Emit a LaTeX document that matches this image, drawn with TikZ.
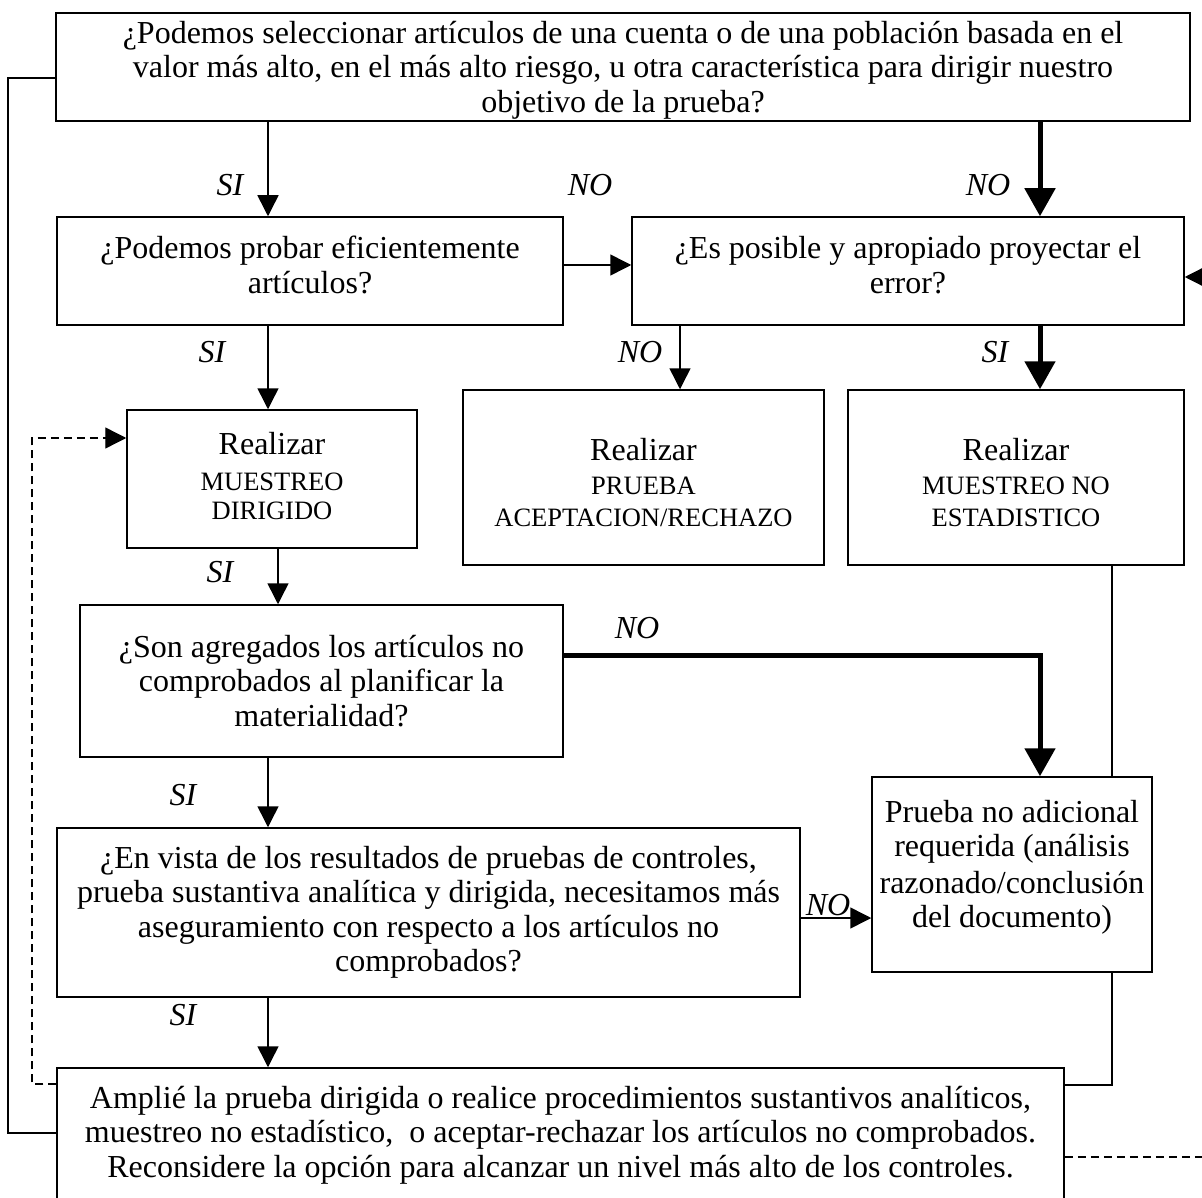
\documentclass[tikz,border=0pt]{standalone}
\usepackage{fontspec}
\setmainfont{Liberation Serif}
\usetikzlibrary{arrows.meta,calc}
\newcommand\capsz{\fontsize{26.5}{30}\selectfont}
\begin{document}
\begin{tikzpicture}[x=1pt,y=-1pt,
  box/.style={draw,line width=1.5pt,inner sep=0pt},
  txt/.style={align=center,inner sep=0pt,font=\fontsize{32}{34.5}\selectfont},
  arr/.style={line width=1.5pt,-{Triangle[length=21pt,width=21pt]}},
  thk/.style={line width=5pt,-{Triangle[length=28pt,width=30pt]}},
  ln/.style={line width=1.5pt},
  dsh/.style={line width=1.4pt,dash pattern=on 8pt off 5pt},
  lbl/.style={font=\fontsize{32}{34}\selectfont\itshape,inner sep=0pt}]
\useasboundingbox (0,0) rectangle (1202,1198);

% boxes
\node[box,minimum width=1134pt,minimum height=108pt] (top) at (623,67) {};
\node[box,minimum width=506pt,minimum height=108pt] (b2) at (310,271) {};
\node[box,minimum width=552pt,minimum height=108pt] (b3) at (908,271) {};
\node[box,minimum width=290pt,minimum height=138pt] (b4) at (272,479) {};
\node[box,minimum width=361pt,minimum height=175pt] (b5) at (643.5,477.5) {};
\node[box,minimum width=336pt,minimum height=175pt] (b6) at (1016,477.5) {};
\node[box,minimum width=483pt,minimum height=152pt] (b7) at (321.5,681) {};
\node[box,minimum width=280pt,minimum height=195pt] (b8) at (1012,874.5) {};
\node[box,minimum width=743pt,minimum height=169pt] (b9) at (428.5,912.5) {};
\node[box,minimum width=1007pt,minimum height=134pt] (b10) at (560.5,1135) {};

% texts
\node[txt] (ttop) at ($(top.center)+(0,3)$)
 {¿Podemos seleccionar artículos de una cuenta o de una población basada en el\\
  valor más alto, en el más alto riesgo, u otra característica para dirigir nuestro\\
  objetivo de la prueba?};
\node[txt] (tb2) at ($(b2.center)+(0,-6)$) {¿Podemos probar eficientemente\\ artículos?};
\node[txt] (tb3) at ($(b3.center)+(0,-6)$) {¿Es posible y apropiado proyectar el\\ error?};
\node[txt] (tb4) at ($(b4.center)+(0,-3)$)
 {Realizar\\[2pt] {\capsz MUESTREO}\\[-6pt] {\capsz DIRIGIDO}};
\node[txt] (tb5) at ($(b5.center)+(0,5)$)
 {Realizar\\ {\capsz PRUEBA}\\[-3pt] {\capsz ACEPTACION/RECHAZO}};
\node[txt] (tb6) at ($(b6.center)+(0,5)$)
 {Realizar\\ {\capsz MUESTREO NO}\\[-3pt] {\capsz ESTADISTICO}};
\node[txt] (tb7) at (b7.center) {¿Son agregados los artículos no\\ comprobados al planificar la\\ materialidad?};
\node[txt] (tb8) at ($(b8.center)+(0,-7)$)
 {Prueba no adicional\\ requerida (análisis\\[2pt] razonado/conclusión\\ del documento)};
\node[txt] (tb9) at (b9.center)
 {¿En vista de los resultados de pruebas de controles,\\
  prueba sustantiva analítica y dirigida, necesitamos más\\
  aseguramiento con respecto a los artículos no\\ comprobados?};
\node[txt] (tb10) at (b10.center)
 {Amplié la prueba dirigida o realice procedimientos sustantivos analíticos,\\
  muestreo no estadístico,\ \ o aceptar-rechazar los artículos no comprobados.\\
  Reconsidere la opción para alcanzar un nivel más alto de los controles.};

% helper coordinates
\coordinate (xa) at (268,0);
\coordinate (xb) at (278,0);
\coordinate (xc) at (680,0);
\coordinate (xd) at (1040,0);
\coordinate (xe) at (1112,0);
\coordinate (xl) at (8,0);
\coordinate (xdl) at (32,0);
\coordinate (ya) at (0,265);
\coordinate (yb) at (0,655);
\coordinate (yc) at (0,918);
\coordinate (yd) at (0,1085);
\coordinate (ye) at (0,78);
\coordinate (yf) at (0,1133);
\coordinate (yg) at (0,1084);
\coordinate (yh) at (0,438);
\coordinate (yi) at (0,1157);
\coordinate (yj) at (0,277);
\coordinate (rin) at (1204,277);
\coordinate (rout) at (1204,1157);

% connectors
\draw[arr] (top.south -| xa) -- (b2.north -| xa);
\draw[thk] (top.south -| xd) -- (b3.north -| xd);
\draw[arr] (b2.east |- ya) -- (b3.west |- ya);
\draw[arr] (b2.south -| xa) -- (b4.north -| xa);
\draw[arr] (b3.south -| xc) -- (b5.north -| xc);
\draw[thk] (b3.south -| xd) -- (b6.north -| xd);
\draw[arr] (b4.south -| xb) -- (b7.north -| xb);
\draw[thk] (b7.east |- yb) -- (xd |- yb) -- (b8.north -| xd);
\draw[ln] (b6.south -| xe) -- (b8.north -| xe);
\draw[arr] (b7.south -| xa) -- (b9.north -| xa);
\draw[arr] (b9.east |- yc) -- (b8.west |- yc);
\draw[arr] (b9.south -| xa) -- (b10.north -| xa);
\draw[ln] (b8.south -| xe) -- (xe |- yd) -- (b10.east |- yd);
\draw[ln] (top.west |- ye) -- (xl |- ye) -- (xl |- yf) -- (b10.west |- yf);
\draw[dsh,-{Triangle[length=21pt,width=21pt]}] (b10.west |- yg) -- (xdl |- yg) -- (xdl |- yh) -- (b4.west |- yh);
\draw[dsh] (b10.east |- yi) -- (rout);
\draw[arr] (rin) -- (b3.east |- yj);

% labels
\node[lbl] (l1) at (230,185) {SI};
\node[lbl] (l2) at (590,185) {NO};
\node[lbl] (l3) at (988,185) {NO};
\node[lbl] (l4) at (212,352) {SI};
\node[lbl] (l5) at (640,352) {NO};
\node[lbl] (l6) at (995,352) {SI};
\node[lbl] (l7) at (220,572) {SI};
\node[lbl] (l8) at (637,628) {NO};
\node[lbl] (l9) at (183,795) {SI};
\node[lbl] (l10) at (828,905) {NO};
\node[lbl] (l11) at (183,1015) {SI};
\end{tikzpicture}
\end{document}
